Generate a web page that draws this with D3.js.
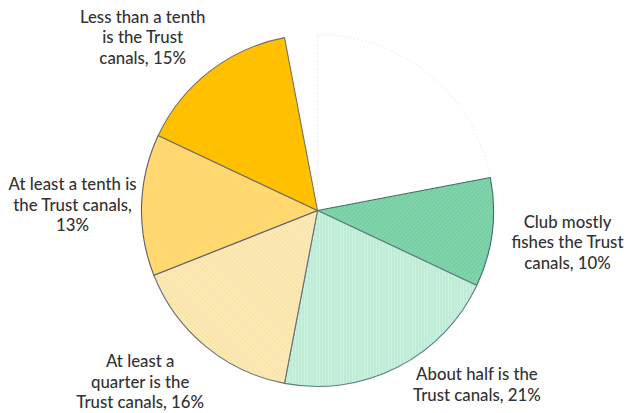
<!DOCTYPE html>
<html>
<head>
<meta charset="utf-8">
<script src="https://cdn.jsdelivr.net/npm/d3@7/dist/d3.min.js"></script>
<style>
  html, body { margin: 0; padding: 0; background: #ffffff; }
  svg { display: block; }
</style>
</head>
<body>
<svg id="chart" width="629" height="413"></svg>
<script>
// Share of fishing done on the Trust canals, by club (percent)
const categories = [
  "",
  "Club mostly fishes the Trust canals",
  "About half is the Trust canals",
  "At least a quarter is the Trust canals",
  "At least a tenth is the Trust canals",
  "Less than a tenth is the Trust canals",
  ""
];
const values = [22, 10, 21, 16, 13, 15, 3];
const labelLines = [
  [],
  ["Club mostly", "fishes the Trust", "canals, 10%"],
  ["About half is the", "Trust canals, 21%"],
  ["At least a", "quarter is the", "Trust canals, 16%"],
  ["At least a tenth is", "the Trust canals,", "13%"],
  ["Less than a tenth", "is the Trust", "canals, 15%"],
  []
];

// Styling per slice
const fills = ["#ffffff", "url(#hatchGreen)", "url(#stripeGreen)", "url(#dotYellow)", "#FFD970", "#FFC000", "none"];
const strokes = ["#ededed", "#3f6e6a", "#5f7f86", "#6b6f78", "#5b5f6a", "#7a7060", "none"];

const W = 629, H = 413;
const cx = 317.5, cy = 210.5, R = 176;

const svg = d3.select("#chart");
const defs = svg.append("defs");

// Fine diagonal hatch on mid green
const pg = defs.append("pattern").attr("id", "hatchGreen")
  .attr("patternUnits", "userSpaceOnUse").attr("width", 3).attr("height", 3)
  .attr("patternTransform", "rotate(45)");
pg.append("rect").attr("width", 3).attr("height", 3).attr("fill", "#80D5AA");
pg.append("rect").attr("width", 1).attr("height", 3).attr("fill", "#6FC79B").attr("opacity", 0.7);

// Vertical stripes on pale green
const ps = defs.append("pattern").attr("id", "stripeGreen")
  .attr("patternUnits", "userSpaceOnUse").attr("width", 3).attr("height", 3);
ps.append("rect").attr("width", 3).attr("height", 3).attr("fill", "#CBF1DF");
ps.append("rect").attr("width", 1).attr("height", 3).attr("fill", "#B3E6CD");

// Fine dotted texture on pale yellow
const pd = defs.append("pattern").attr("id", "dotYellow")
  .attr("patternUnits", "userSpaceOnUse").attr("width", 3).attr("height", 3)
  .attr("patternTransform", "rotate(-45)");
pd.append("rect").attr("width", 3).attr("height", 3).attr("fill", "#FCEAB6");
pd.append("rect").attr("width", 1).attr("height", 3).attr("fill", "#F6DE9E").attr("opacity", 0.7);

const data = categories.map((c, i) => ({ category: c, value: values[i], lines: labelLines[i], i }));

const pie = d3.pie().value(d => d.value).sort(null);
const arc = d3.arc().innerRadius(0).outerRadius(R);
const arcs = pie(data);

const g = svg.append("g").attr("transform", `translate(${cx},${cy})`);

g.selectAll("path.slice")
  .data(arcs)
  .join("path")
  .attr("class", "slice")
  .attr("d", arc)
  .attr("fill", d => fills[d.data.i])
  .attr("stroke", d => strokes[d.data.i])
  .attr("stroke-width", d => d.data.i === 0 ? 1 : 1.1)
  .attr("stroke-dasharray", d => d.data.i === 0 ? "2,2" : null)
  .attr("stroke-linejoin", "round");

// Label placement: polar offset from each slice's middle angle
const labelPlacement = [
  null,
  { shift: 0.0, dist: 252 },
  { shift: -15.5, dist: 236 },
  { shift: 6.4, dist: 246.5 },
  { shift: -0.4, dist: 245 },
  { shift: -7.5, dist: 246 }
];

const lineH = 20.5;
const labels = svg.append("g")
  .attr("font-family", "Lato, 'Open Sans', sans-serif")
  .attr("font-size", 16.8)
  .attr("font-weight", 500)
  .attr("fill", "#333333")
  .attr("text-anchor", "middle");

arcs.forEach(a => {
  const p = labelPlacement[a.data.i];
  if (!p || !a.data.lines.length) return;
  const mid = (a.startAngle + a.endAngle) / 2 + p.shift * Math.PI / 180;
  const lx = cx + Math.sin(mid) * p.dist;
  const ly = cy - Math.cos(mid) * p.dist;
  const n = a.data.lines.length;
  const t = labels.append("text").attr("x", lx);
  a.data.lines.forEach((line, k) => {
    t.append("tspan")
      .attr("x", lx)
      .attr("y", ly + (k - (n - 1) / 2) * lineH + 6)
      .text(line);
  });
});
</script>
</body>
</html>
